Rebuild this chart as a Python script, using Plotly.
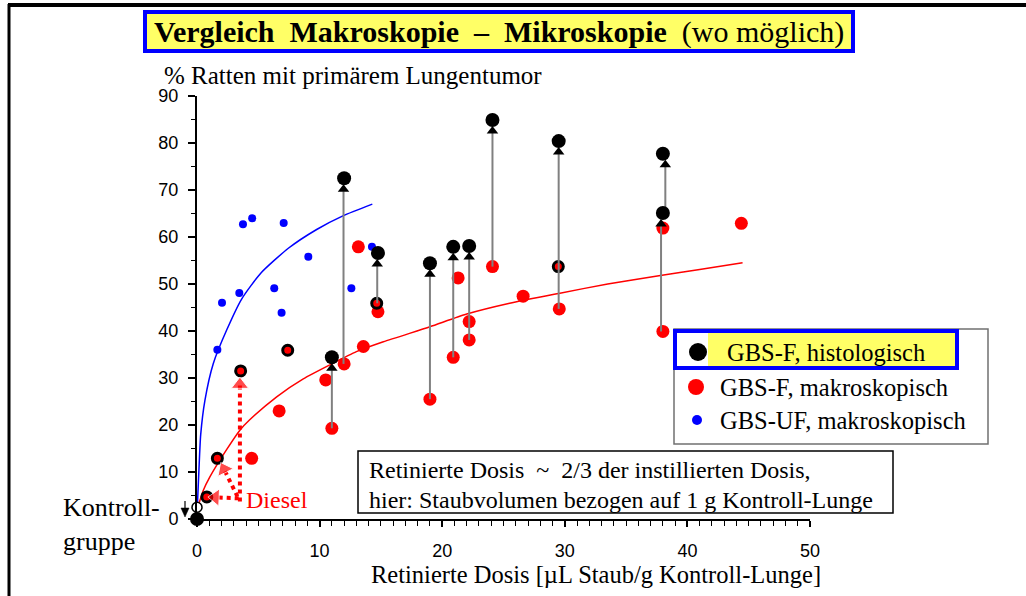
import plotly.graph_objects as go

# ---------------- data ----------------
# GBS-F, histological findings (black)
hist_x = [0.0, 11.0, 12.0, 14.76, 19.0, 20.9, 22.2, 24.1, 29.5, 38.0, 38.0]
hist_y = [0.0, 34.4, 72.5, 56.6, 54.4, 57.9, 58.1, 84.9, 80.4, 65.1, 77.7]

# GBS-F where histology equals macroscopy (red with black rim)
same_x = [0.8, 1.66, 3.56, 7.4, 14.66, 29.47]
same_y = [4.7, 12.9, 31.5, 35.9, 45.9, 53.7]

# GBS-F, macroscopic (red)
macro_x = [4.46, 6.7, 10.5, 11.0, 12.0, 13.57, 13.16, 14.76, 19.0, 20.9, 21.3,
           22.2, 22.2, 24.1, 26.6, 29.55, 38.0, 38.0, 44.4]
macro_y = [12.9, 23.0, 29.6, 19.3, 33.0, 36.7, 57.9, 44.1, 25.5, 34.4, 51.3,
           42.0, 38.1, 53.7, 47.4, 44.7, 39.9, 61.9, 62.9]

# GBS-UF, macroscopic (blue)
uf_x = [1.66, 2.04, 3.45, 3.75, 4.5, 6.3, 6.9, 7.07, 9.08, 12.59, 14.27]
uf_y = [36.0, 46.0, 48.1, 62.7, 64.0, 49.1, 43.9, 63.0, 55.8, 49.1, 57.9]

# control group, macroscopic (open circle)
ctrl_x = [0.0]
ctrl_y = [2.5]

# macroscopic -> histological shifts
shift_x = [11.0, 11.95, 14.7, 19.0, 20.9, 22.2, 24.1, 29.5, 37.85, 38.2]
shift_from = [19.3, 33.0, 45.9, 25.5, 34.4, 38.1, 53.7, 44.7, 39.9, 65.1]
shift_to = [34.4, 72.5, 56.6, 54.4, 57.9, 58.1, 84.9, 80.4, 65.1, 77.7]

# fitted curves
fit_f_x = [0.05, 0.5, 1.06, 2.4, 3.5, 4.3, 6.5, 8.67, 10.85, 13.0, 15.2, 19.0,
           22.0, 25.5, 29.5, 33.5, 37.8, 41.0, 44.5]
fit_f_y = [2.3, 6.0, 9.0, 14.7, 18.9, 21.1, 26.0, 29.8, 32.8, 35.6, 37.7, 40.9,
           43.6, 45.9, 48.0, 50.0, 51.8, 53.1, 54.5]
fit_uf_x = [0.0, 0.15, 0.3, 0.65, 1.33, 2.42, 3.64, 5.2, 7.45, 9.76, 11.9, 14.3]
fit_uf_y = [1.0, 10.0, 17.9, 25.3, 33.1, 40.2, 46.8, 52.3, 57.6, 61.6, 64.5, 67.0]

# Diesel pointer arrows (tail, head) in axis units
diesel_arrows = [((3.5, 3.7), (3.5, 28.6)),
                 ((3.4, 4.4), (1.5, 4.6)),
                 ((3.3, 4.8), (2.2, 10.6))]

x_ticks = [0, 10, 20, 30, 40, 50]
y_ticks = [0, 10, 20, 30, 40, 50, 60, 70, 80, 90]

# ---------------- geometry helpers ----------------
W, H = 1026, 596
L, R, T, B = 197, 810, 96, 519
X_MAX, Y_MAX = 50, 90


def fx(p):
    return (p - L) / (R - L)


def fy(p):
    return (B - p) / (B - T)


units_per_px = Y_MAX / (B - T)

SERIF = "Liberation Serif, Times New Roman, serif"
SANS = "Liberation Sans, Arial, sans-serif"
RED = "#FF0000"
BLUE = "#0000FF"
YELLOW = "#FFFF66"

fig = go.Figure()

# fitted curves
fig.add_trace(go.Scatter(x=fit_uf_x, y=fit_uf_y, mode="lines",
                         line=dict(color=BLUE, width=1.5, shape="spline", smoothing=0.6),
                         cliponaxis=False))
fig.add_trace(go.Scatter(x=fit_f_x, y=fit_f_y, mode="lines",
                         line=dict(color=RED, width=1.5, shape="spline", smoothing=0.6),
                         cliponaxis=False))

# blue and red macroscopic points
fig.add_trace(go.Scatter(x=uf_x, y=uf_y, mode="markers",
                         marker=dict(color=BLUE, size=8), cliponaxis=False))
fig.add_trace(go.Scatter(x=macro_x, y=macro_y, mode="markers",
                         marker=dict(color=RED, size=13), cliponaxis=False))
fig.add_trace(go.Scatter(x=same_x, y=same_y, mode="markers",
                         marker=dict(color=RED, size=10,
                                     line=dict(color="black", width=3)),
                         cliponaxis=False))

# shift arrows: grey shaft with black head just below the histological point
tri_off = 11 * units_per_px
for xs, y0, y1 in zip(shift_x, shift_from, shift_to):
    fig.add_trace(go.Scatter(x=[xs, xs], y=[y0, y1 - tri_off - 2 * units_per_px],
                             mode="lines", line=dict(color="#808080", width=2),
                             cliponaxis=False))
fig.add_trace(go.Scatter(x=shift_x, y=[v - tri_off for v in shift_to],
                         mode="markers",
                         marker=dict(symbol="triangle-up", color="black", size=10),
                         cliponaxis=False))

# histological points
fig.add_trace(go.Scatter(x=hist_x, y=hist_y, mode="markers",
                         marker=dict(color="black", size=14), cliponaxis=False))
fig.add_trace(go.Scatter(x=ctrl_x, y=ctrl_y, mode="markers",
                         marker=dict(color="white", size=10,
                                     line=dict(color="black", width=1.5)),
                         cliponaxis=False))

# Diesel pointers
for (tx, ty), (hx, hy) in diesel_arrows:
    fig.add_trace(go.Scatter(x=[tx, hx], y=[ty, hy], mode="lines",
                             line=dict(color=RED, width=4, dash="dot"),
                             cliponaxis=False))
    fig.add_trace(go.Scatter(x=[tx, hx], y=[ty, hy], mode="markers",
                             marker=dict(symbol="triangle-up", color=RED,
                                         size=[0, 15], angleref="previous"),
                             cliponaxis=False))

shapes = []
annotations = []

# slide frame
shapes.append(dict(type="line", xref="paper", yref="paper", x0=fx(8), x1=fx(W),
                   y0=fy(5), y1=fy(5), line=dict(color="black", width=4)))
shapes.append(dict(type="line", xref="paper", yref="paper", x0=fx(9), x1=fx(9),
                   y0=fy(4), y1=fy(H), line=dict(color="black", width=3)))

# small pointer from the control group's macroscopic value down to zero
shapes.append(dict(type="line", xref="paper", yref="paper",
                   x0=fx(185), x1=fx(185), y0=fy(501), y1=fy(510),
                   line=dict(color="black", width=1.2)))
shapes.append(dict(type="path", xref="paper", yref="paper",
                   path="M {a},{b} L {c},{b} L {d},{e} Z".format(
                       a=fx(181), c=fx(189), b=fy(508), d=fx(185), e=fy(517)),
                   fillcolor="black", line=dict(color="black", width=0.5)))

# title box
shapes.append(dict(type="rect", xref="paper", yref="paper",
                   x0=fx(145), x1=fx(853), y0=fy(12), y1=fy(51),
                   fillcolor=YELLOW, line=dict(color=BLUE, width=4)))
annotations.append(dict(
    xref="paper", yref="paper", x=fx(499), y=fy(32), xanchor="center", yanchor="middle",
    text="<b>Vergleich\u00a0\u00a0Makroskopie\u00a0\u00a0–\u00a0\u00a0Mikroskopie</b>\u00a0\u00a0(wo\u00a0möglich)",
    showarrow=False, font=dict(family=SERIF, size=30, color="black")))

# axis captions
annotations.append(dict(xref="paper", yref="paper", x=fx(162), y=fy(75),
                        xanchor="left", yanchor="middle",
                        text="%\u00a0Ratten mit primärem Lungentumor",
                        showarrow=False, font=dict(family=SERIF, size=25, color="black")))
annotations.append(dict(xref="paper", yref="paper", x=fx(596), y=fy(574),
                        xanchor="center", yanchor="middle",
                        text="Retinierte Dosis [µL Staub/g Kontroll-Lunge]",
                        showarrow=False, font=dict(family=SERIF, size=24.5, color="black")))
annotations.append(dict(xref="paper", yref="paper", x=fx(61), y=fy(524),
                        xanchor="left", yanchor="middle",
                        text="Kontroll-<br>gruppe",
                        showarrow=False, align="left",
                        font=dict(family=SERIF, size=26, color="black")))
annotations.append(dict(xref="paper", yref="paper", x=fx(244), y=fy(500),
                        xanchor="left", yanchor="middle", text="Diesel",
                        showarrow=False, font=dict(family=SERIF, size=24, color=RED)))

# note box
shapes.append(dict(type="rect", xref="paper", yref="paper",
                   x0=fx(358), x1=fx(893), y0=fy(451), y1=fy(513),
                   fillcolor="white", line=dict(color="black", width=1.5)))
annotations.append(dict(xref="paper", yref="paper", x=fx(367), y=fy(470),
                        xanchor="left", yanchor="middle",
                        text="Retinierte Dosis\u00a0\u00a0~\u00a0\u00a02/3 der instillierten Dosis,",
                        showarrow=False, font=dict(family=SERIF, size=24, color="black")))
annotations.append(dict(xref="paper", yref="paper", x=fx(367), y=fy(500),
                        xanchor="left", yanchor="middle",
                        text="hier: Staubvolumen bezogen auf 1 g Kontroll-Lunge",
                        showarrow=False, font=dict(family=SERIF, size=24, color="black")))

# legend
shapes.append(dict(type="rect", xref="paper", yref="paper",
                   x0=fx(674), x1=fx(988), y0=fy(329), y1=fy(444),
                   fillcolor="white", line=dict(color="#707070", width=1.5)))
shapes.append(dict(type="rect", xref="paper", yref="paper",
                   x0=fx(708), x1=fx(955), y0=fy(333), y1=fy(366),
                   fillcolor=YELLOW, line=dict(width=0)))
shapes.append(dict(type="rect", xref="paper", yref="paper",
                   x0=fx(675), x1=fx(957), y0=fy(331), y1=fy(368),
                   fillcolor="rgba(0,0,0,0)", line=dict(color=BLUE, width=4)))
legend_rows = [("GBS-F, histologisch", "black", 9, 698, 352, 725),
               ("GBS-F, makroskopisch", RED, 8, 696, 387, 718),
               ("GBS-UF, makroskopisch", BLUE, 5, 697, 420, 718)]
for label, col, rad, mx, my, tx in legend_rows:
    shapes.append(dict(type="circle", xref="paper", yref="paper",
                       xsizemode="pixel", ysizemode="pixel",
                       xanchor=fx(mx), yanchor=fy(my),
                       x0=-rad, x1=rad, y0=-rad, y1=rad,
                       fillcolor=col, line=dict(width=0)))
    annotations.append(dict(xref="paper", yref="paper", x=fx(tx), y=fy(my),
                            xanchor="left", yanchor="middle", text=label,
                            showarrow=False,
                            font=dict(family=SERIF, size=24.5, color="black")))

fig.update_layout(
    width=W, height=H, autosize=False,
    margin=dict(l=L, r=W - R, t=T, b=H - B, pad=0),
    paper_bgcolor="white", plot_bgcolor="white",
    showlegend=False,
    shapes=shapes, annotations=annotations,
    xaxis=dict(range=[0, X_MAX], tickvals=x_ticks, ticks="outside", ticklen=6,
               tickwidth=1.5, tickcolor="black",
               minor=dict(dtick=1, ticks="outside", ticklen=5, tickwidth=1.2,
                          tickcolor="black"),
               showline=True, linecolor="black", linewidth=2, showgrid=False,
               zeroline=False, ticklabelstandoff=8,
               tickfont=dict(family=SANS, size=18, color="black")),
    yaxis=dict(range=[0, Y_MAX], tickvals=y_ticks, ticks="outside", ticklen=7,
               tickwidth=1.5, tickcolor="black",
               minor=dict(dtick=5, ticks="outside", ticklen=4, tickwidth=1.2,
                          tickcolor="black"),
               showline=True, linecolor="black", linewidth=2, showgrid=False,
               zeroline=False, ticklabelstandoff=6,
               tickfont=dict(family=SANS, size=18, color="black")),
)

fig.write_html("out.html")
